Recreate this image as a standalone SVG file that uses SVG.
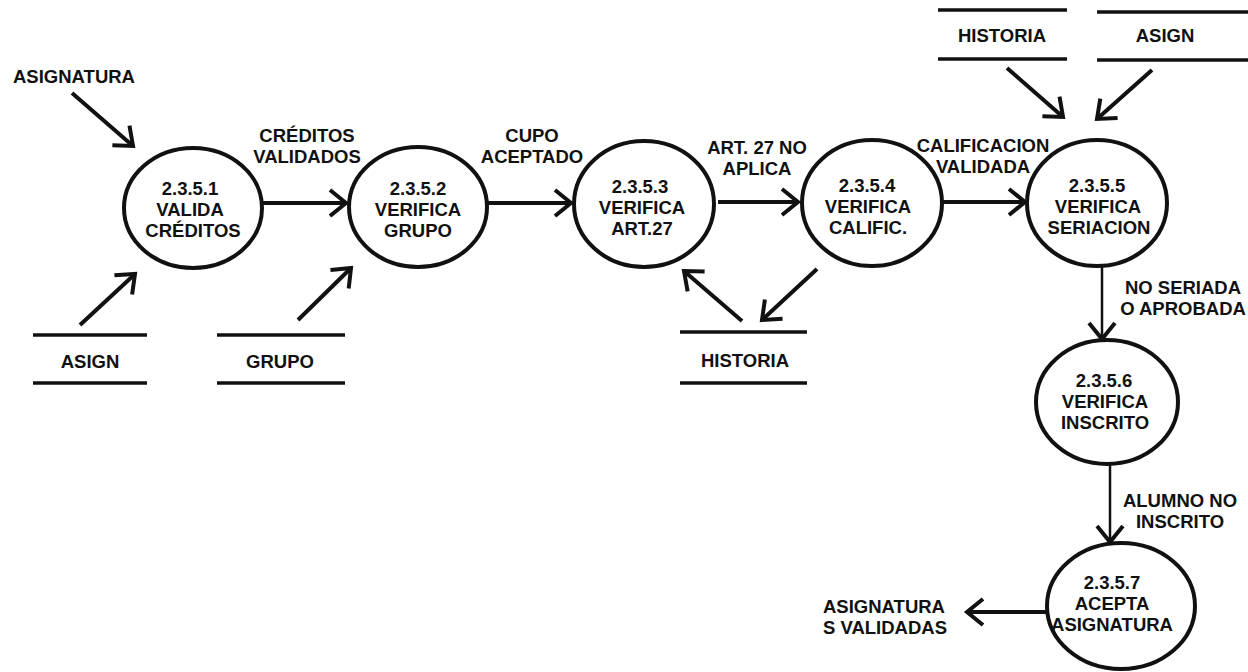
<svg xmlns="http://www.w3.org/2000/svg" width="1248" height="672" viewBox="0 0 1248 672">
<style>
text{font-family:"Liberation Sans",Arial,sans-serif;font-size:18.5px;font-weight:bold;fill:#111;text-anchor:middle}
.proc ellipse{fill:none;stroke:#111;stroke-width:4}
.store line{stroke:#111;stroke-width:3.5}
.flow line{stroke:#111;stroke-width:4;marker-end:url(#arr)}
.flow line.thin{stroke-width:2.5}
.start{text-anchor:start}
</style>
<defs>
<marker id="arr" markerUnits="userSpaceOnUse" markerWidth="40" markerHeight="40" viewBox="-20 -20 40 40" refX="0" refY="0" orient="auto">
<path d="M-16,-13 L0,0 L-16,13" fill="none" stroke="#111" stroke-width="4"/>
</marker>
</defs>
<rect width="1248" height="672" fill="#fff"/>

<g id="flows" class="flow">
<line x1="72" y1="93" x2="133" y2="146"/>
<line x1="80" y1="325" x2="135" y2="274"/>
<line x1="263" y1="203" x2="346" y2="203"/>
<line x1="298" y1="320" x2="351" y2="268"/>
<line x1="487" y1="203" x2="571" y2="203"/>
<line x1="718" y1="202" x2="798" y2="202"/>
<line x1="742" y1="321" x2="684" y2="271"/>
<line x1="817" y1="269" x2="762" y2="320"/>
<line x1="943" y1="202" x2="1025" y2="202"/>
<line x1="1007" y1="68" x2="1063" y2="117"/>
<line x1="1152" y1="70" x2="1097" y2="119"/>
<line class="thin" x1="1102" y1="267" x2="1102" y2="339"/>
<line class="thin" x1="1110" y1="465" x2="1110" y2="542"/>
<line x1="1047" y1="612" x2="967" y2="612"/>
</g>

<g id="flow-labels">
<text x="13" y="83" class="start">ASIGNATURA</text>
<text x="307" y="142">CRÉDITOS</text>
<text x="307" y="163">VALIDADOS</text>
<text x="532" y="142">CUPO</text>
<text x="532" y="163">ACEPTADO</text>
<text x="757" y="154">ART. 27 NO</text>
<text x="757" y="175">APLICA</text>
<text x="983" y="152">CALIFICACION</text>
<text x="983" y="173">VALIDADA</text>
<text x="1183" y="294">NO SERIADA</text>
<text x="1183" y="315">O APROBADA</text>
<text x="1180" y="507">ALUMNO NO</text>
<text x="1180" y="528">INSCRITO</text>
<text x="823" y="613" class="start">ASIGNATURA</text>
<text x="823" y="634" class="start">S VALIDADAS</text>
</g>

<g id="p2351" class="proc">
<ellipse cx="193" cy="208" rx="69" ry="60"/>
<text x="190" y="195">2.3.5.1</text>
<text x="190" y="216">VALIDA</text>
<text x="193" y="237">CRÉDITOS</text>
</g>
<g id="p2352" class="proc">
<ellipse cx="418" cy="207" rx="69" ry="60"/>
<text x="418" y="195">2.3.5.2</text>
<text x="418" y="216">VERIFICA</text>
<text x="418" y="237">GRUPO</text>
</g>
<g id="p2353" class="proc">
<ellipse cx="644" cy="204" rx="70" ry="63"/>
<text x="640" y="193">2.3.5.3</text>
<text x="642" y="214">VERIFICA</text>
<text x="642" y="235">ART.27</text>
</g>
<g id="p2354" class="proc">
<ellipse cx="872" cy="203" rx="70" ry="63"/>
<text x="867" y="192">2.3.5.4</text>
<text x="868" y="213">VERIFICA</text>
<text x="868" y="234">CALIFIC.</text>
</g>
<g id="p2355" class="proc">
<ellipse cx="1097" cy="203" rx="70" ry="63"/>
<text x="1097" y="192">2.3.5.5</text>
<text x="1098" y="213">VERIFICA</text>
<text x="1099" y="234">SERIACION</text>
</g>
<g id="p2356" class="proc">
<ellipse cx="1107" cy="402" rx="71" ry="62"/>
<text x="1104" y="387">2.3.5.6</text>
<text x="1105" y="408">VERIFICA</text>
<text x="1105" y="429">INSCRITO</text>
</g>
<g id="p2357" class="proc">
<ellipse cx="1121" cy="606" rx="74" ry="63"/>
<text x="1112" y="589">2.3.5.7</text>
<text x="1112" y="610">ACEPTA</text>
<text x="1112" y="631">ASIGNATURA</text>
</g>

<g id="s-asign-1" class="store">
<line x1="33" y1="335" x2="147" y2="335"/>
<line x1="33" y1="383" x2="147" y2="383"/>
<text x="90" y="368">ASIGN</text>
</g>
<g id="s-grupo" class="store">
<line x1="217" y1="335" x2="345" y2="335"/>
<line x1="217" y1="383" x2="345" y2="383"/>
<text x="280" y="368">GRUPO</text>
</g>
<g id="s-historia-1" class="store">
<line x1="680" y1="332" x2="807" y2="332"/>
<line x1="680" y1="383" x2="807" y2="383"/>
<text x="745" y="367">HISTORIA</text>
</g>
<g id="s-historia-2" class="store">
<line x1="938" y1="10" x2="1067" y2="10"/>
<line x1="938" y1="59" x2="1067" y2="59"/>
<text x="1002" y="42">HISTORIA</text>
</g>
<g id="s-asign-2" class="store">
<line x1="1097" y1="12" x2="1248" y2="12"/>
<line x1="1097" y1="60" x2="1248" y2="60"/>
<text x="1165" y="42">ASIGN</text>
</g>
</svg>
